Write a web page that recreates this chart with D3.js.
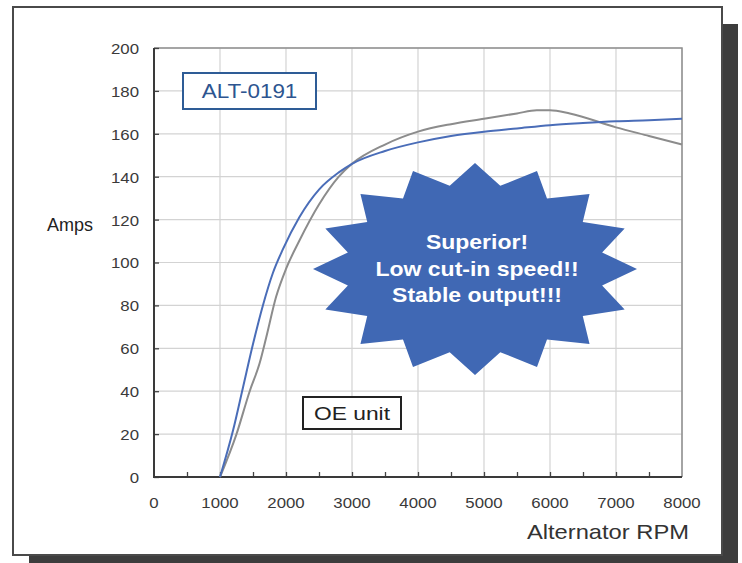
<!DOCTYPE html>
<html>
<head>
<meta charset="utf-8">
<script src="https://cdn.jsdelivr.net/npm/d3@7"></script>
<style>
  body { margin: 0; background: #fff; }
  svg { display: block; font-family: "Liberation Sans", Arial, sans-serif; }
</style>
</head>
<body>
<svg id="chart" width="742" height="563"></svg>
<script>
// values
const altRpm  = [1000, 1200, 1350, 1500, 1650, 1800, 1950, 2200, 2500, 2800, 3000, 3500, 4000, 4500, 5000, 5500, 6000, 6500, 7000, 7500, 8000]
const altAmps = [0, 22, 42, 62, 80, 95, 106, 121, 134, 142, 146, 152, 156, 159, 161, 162.5, 164, 165, 165.8, 166.3, 167]

const oeRpm  = [1000, 1250, 1450, 1600, 1700, 1850, 2000, 2200, 2500, 2800, 3000, 3500, 4000, 4500, 5000, 5500, 5800, 6000, 6300, 7000, 7500, 8000]
const oeAmps = [0, 20, 40, 53, 65, 84, 97, 110, 127, 140, 146, 155, 161, 164.5, 167, 169.5, 171, 171, 169.5, 163, 159, 155]

const yTicks = [0, 20, 40, 60, 80, 100, 120, 140, 160, 180, 200]
const xTicks = [0, 1000, 2000, 3000, 4000, 5000, 6000, 7000, 8000]
const xMinor = d3.range(500, 8000, 500)

const burstLines = ["Superior!", "Low cut-in speed!!", "Stable output!!!"]

const svg = d3.select("#chart")

// frame + drop shadow
svg.append("rect")
  .attr("x", 29).attr("y", 24)
  .attr("width", 709).attr("height", 548)
  .attr("fill", "#3d3d3d")
svg.append("rect")
  .attr("x", 13).attr("y", 7)
  .attr("width", 709).attr("height", 548)
  .attr("fill", "#fff")
  .attr("stroke", "#4a4a4a")
  .attr("stroke-width", 2)

const x = d3.scaleLinear()
  .domain([0, 8000])
  .range([154, 682])

const y = d3.scaleLinear()
  .domain([0, 200])
  .range([477, 48])

// grid
svg.append("g")
  .selectAll("line")
  .data(xTicks.slice(1))
  .enter().append("line")
    .attr("x1", d => x(d)).attr("x2", d => x(d))
    .attr("y1", y(0)).attr("y2", y(200))
    .attr("stroke", "#d3d3d3")
    .attr("stroke-width", 1.2)
svg.append("g")
  .selectAll("line")
  .data(yTicks.slice(1))
  .enter().append("line")
    .attr("x1", x(0)).attr("x2", x(8000))
    .attr("y1", d => y(d)).attr("y2", d => y(d))
    .attr("stroke", "#d3d3d3")
    .attr("stroke-width", 1.2)

// plot border top/right
svg.append("path")
  .attr("d", `M${x(0)},${y(200)}H${x(8000)}V${y(0)}`)
  .attr("fill", "none")
  .attr("stroke", "#8f8f8f")
  .attr("stroke-width", 1.5)

// axes
const yAxis = svg.append("g")
  .attr("transform", `translate(${x(0)},0)`)
  .call(d3.axisRight(y).tickValues(yTicks).tickSize(5).tickFormat(""))
yAxis.selectAll("line").attr("stroke", "#444").attr("stroke-width", 1.3)
yAxis.select(".domain").remove()

const xAxis = svg.append("g")
  .attr("transform", `translate(0,${y(0)})`)
  .call(d3.axisTop(x).tickValues(xMinor).tickSize(5).tickFormat(""))
xAxis.selectAll("line").attr("stroke", "#444").attr("stroke-width", 1.3)
xAxis.select(".domain").remove()

svg.append("path")
  .attr("d", `M${x(0)},${y(200)}V${y(0)}H${x(8000)}`)
  .attr("fill", "none")
  .attr("stroke", "#3a3a3a")
  .attr("stroke-width", 2)

// stretched text helper (the source picture is a bit wide)
const label = (g, txt, px, py, opts) => {
  const t = g.append("text")
    .attr("transform", `translate(${px},${py}) scale(${opts.sx || 1},1)`)
    .attr("text-anchor", opts.anchor || "middle")
    .attr("dominant-baseline", "central")
    .attr("font-size", opts.size)
    .attr("font-weight", opts.weight || "normal")
    .attr("fill", opts.fill || "#333")
    .text(txt)
  return t
}

const tickLabels = svg.append("g")
yTicks.forEach(d => label(tickLabels, d, 139, y(d) + 1, { size: 14, sx: 1.2, anchor: "end", fill: "#3a3a3a" }))
xTicks.forEach(d => label(tickLabels, d, x(d), 503, { size: 14, sx: 1.2, fill: "#3a3a3a" }))

label(svg, "Amps", 93, 225, { size: 18, sx: 1.0, anchor: "end", fill: "#222" })
label(svg, "Alternator RPM", 689, 532, { size: 21, sx: 1.13, anchor: "end", fill: "#333" })

// series
const line = d3.line()
  .x(d => x(d[0]))
  .y(d => y(d[1]))
  .curve(d3.curveMonotoneX)

svg.append("path")
  .datum(d3.zip(oeRpm, oeAmps))
  .attr("d", line)
  .attr("fill", "none")
  .attr("stroke", "#8c8c8c")
  .attr("stroke-width", 2)

svg.append("path")
  .datum(d3.zip(altRpm, altAmps))
  .attr("d", line)
  .attr("fill", "none")
  .attr("stroke", "#4a6db8")
  .attr("stroke-width", 2)

// series labels
svg.append("rect")
  .attr("x", 183).attr("y", 73)
  .attr("width", 133).attr("height", 36)
  .attr("fill", "#fff")
  .attr("stroke", "#2e5c96")
  .attr("stroke-width", 2)
label(svg, "ALT-0191", 249.5, 91, { size: 21, sx: 1.07, fill: "#2d5590" })

svg.append("rect")
  .attr("x", 303).attr("y", 397)
  .attr("width", 98).attr("height", 32)
  .attr("fill", "#fff")
  .attr("stroke", "#222")
  .attr("stroke-width", 2)
label(svg, "OE unit", 352, 413, { size: 19, sx: 1.2, fill: "#222" })

// starburst callout
const cx = 475, cy = 269, rx = 162, ry = 106, inner = 0.8, spikes = 16
const burst = d3.range(spikes * 2).map(i => {
  const a = i * Math.PI / spikes - Math.PI / 2
  const r = i % 2 ? inner : 1
  return [cx + Math.cos(a) * rx * r, cy + Math.sin(a) * ry * r]
})
svg.append("path")
  .attr("d", "M" + burst.join("L") + "Z")
  .attr("fill", "#4068b4")

burstLines.forEach((t, i) => {
  label(svg, t, 477, 242 + i * 26.6, { size: 20, sx: 1.15, weight: "bold", fill: "#fff" })
})
</script>
</body>
</html>
